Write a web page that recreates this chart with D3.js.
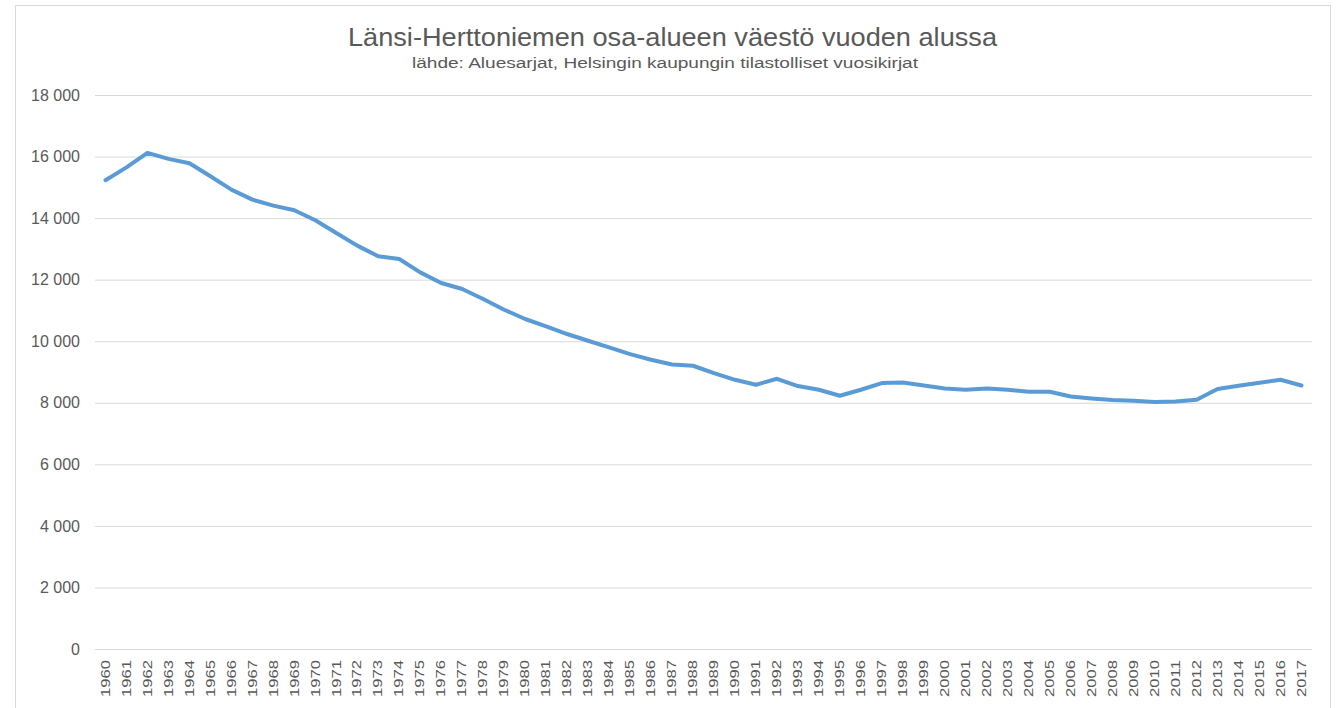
<!DOCTYPE html>
<html>
<head>
<meta charset="utf-8">
<script src="https://cdn.jsdelivr.net/npm/d3@7"></script>
<style>
  body { margin: 0; background: #fff; }
  svg text { font-family: "Liberation Sans", Arial, sans-serif; fill: #595959; }
</style>
</head>
<body>
<div id="chart"></div>
<script>
var years = d3.range(1960, 2018).map(String);

var population = [
  15230, 15650, 16120, 15925, 15780, 15360, 14925, 14600, 14405, 14254,
  13930, 13518, 13106, 12758, 12673, 12238, 11892, 11697, 11372, 11024,
  10722, 10482, 10234, 10016, 9798, 9582, 9397, 9245, 9203, 8965,
  8747, 8585, 8780, 8543, 8423, 8228, 8423, 8640, 8662, 8563,
  8465, 8423, 8465, 8423, 8358, 8358, 8205, 8140, 8087, 8065,
  8022, 8043, 8097, 8445, 8553, 8650, 8747, 8563
];

var yTicks = [0, 2000, 4000, 6000, 8000, 10000, 12000, 14000, 16000, 18000];

var titleText = "Länsi-Herttoniemen osa-alueen väestö vuoden alussa";
var subtitleText = "lähde: Aluesarjat, Helsingin kaupungin tilastolliset vuosikirjat";

var width = 1337, height = 708;
var plot = { left: 95, right: 1312, top: 95, bottom: 649 };

var svg = d3.select("#chart").append("svg")
    .attr("width", width)
    .attr("height", height);

// outer frame
svg.append("rect")
    .attr("x", 15.5).attr("y", 5.5)
    .attr("width", 1315).attr("height", 720)
    .attr("fill", "#fff")
    .attr("stroke", "#d9d9d9");

var x = d3.scaleBand()
    .domain(years)
    .range([plot.left, plot.right]);

var y = d3.scaleLinear()
    .domain([0, 18000])
    .range([plot.bottom, plot.top]);

var fmt = function(d) { return d3.format(",")(d).replace(/,/g, " "); };

// gridlines + y labels
var yAxis = svg.append("g")
    .attr("transform", "translate(" + plot.left + ",0)")
    .call(d3.axisLeft(y).tickValues(yTicks).tickFormat(fmt)
        .tickSize(-(plot.right - plot.left)).tickPadding(15));
yAxis.select(".domain").remove();
yAxis.selectAll("line").attr("stroke", "#d9d9d9");
yAxis.selectAll("text")
    .attr("font-size", "16px")
    .attr("fill", "#595959");

// x labels, rotated (reference glyphs are tall and narrow)
var xAxis = svg.append("g")
    .attr("transform", "translate(0," + plot.bottom + ")")
    .call(d3.axisBottom(x).tickSize(0));
xAxis.select(".domain").remove();
xAxis.selectAll("text")
    .attr("font-size", "12px")
    .attr("fill", "#595959")
    .attr("transform", "rotate(-90)")
    .attr("text-anchor", "start")
    .attr("x", -48)
    .attr("y", 0)
    .attr("dy", "0.35em")
    .attr("textLength", 37)
    .attr("lengthAdjust", "spacingAndGlyphs");

var line = d3.line()
    .x(function(d, i) { return x(years[i]) + x.bandwidth() / 2; })
    .y(function(d) { return y(d); });

svg.append("path")
    .datum(population)
    .attr("d", line)
    .attr("fill", "none")
    .attr("stroke", "#5b9bd5")
    .attr("stroke-width", 4)
    .attr("stroke-linejoin", "round")
    .attr("stroke-linecap", "round");

svg.append("text")
    .attr("x", 348).attr("y", 46)
    .attr("font-size", "25px")
    .attr("textLength", 649)
    .attr("lengthAdjust", "spacingAndGlyphs")
    .text(titleText);

svg.append("text")
    .attr("x", 412).attr("y", 68)
    .attr("font-size", "14px")
    .attr("textLength", 506)
    .attr("lengthAdjust", "spacingAndGlyphs")
    .text(subtitleText);
</script>
</body>
</html>
